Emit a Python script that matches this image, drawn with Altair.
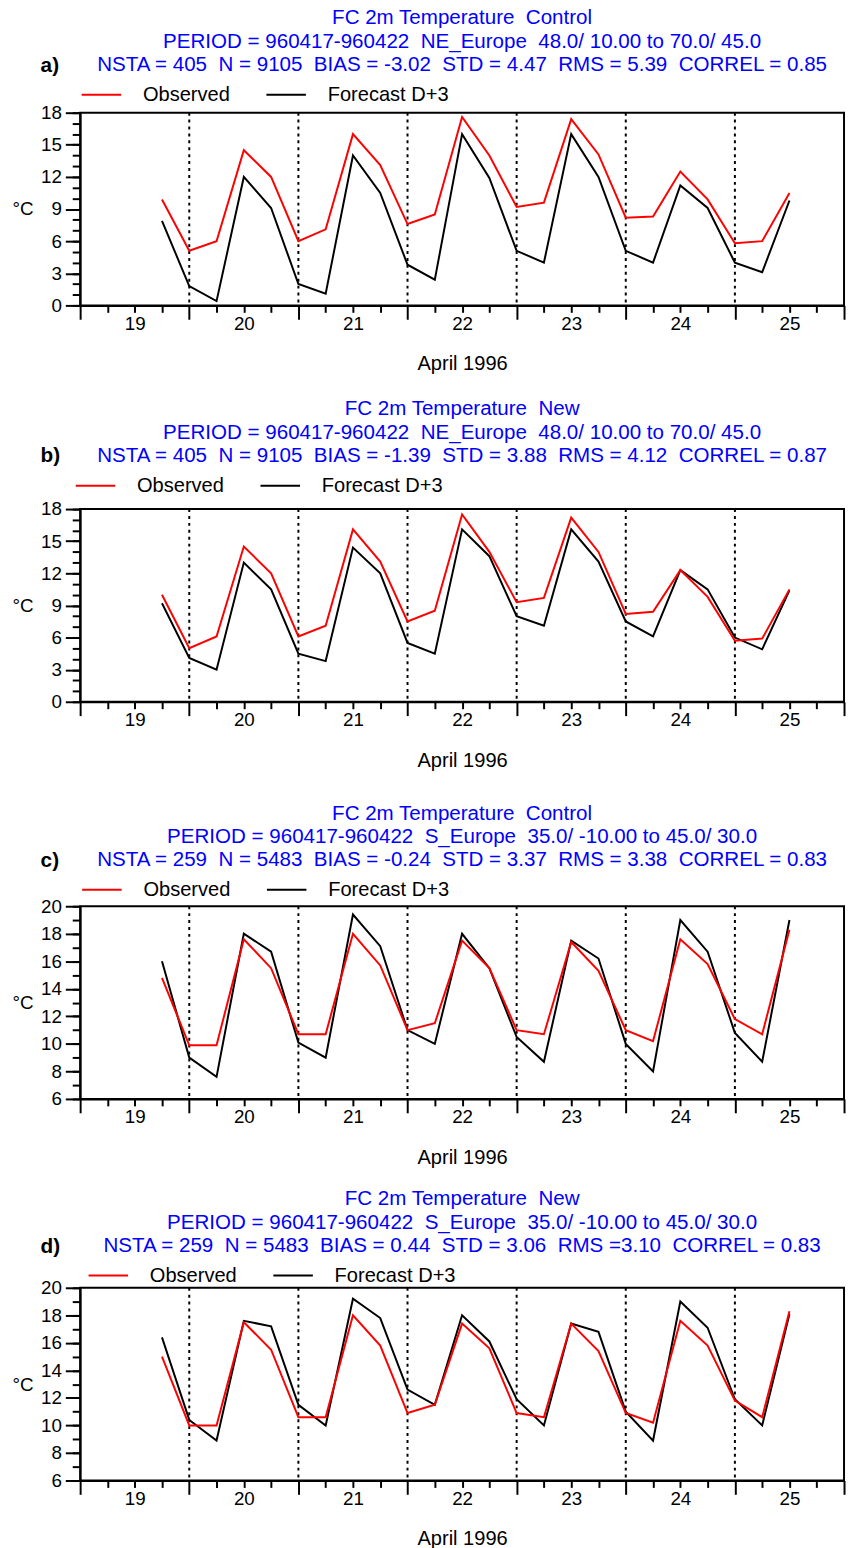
import altair as alt
import pandas as pd

FONT = "Liberation Sans"
NB = "\u00a0"

# hours after 19 April 1996 00 UTC
hours = [18, 24, 30, 36, 42, 48, 54, 60, 66, 72, 78, 84, 90, 96, 102, 108, 114, 120, 126, 132, 138, 144, 150, 156]
day_bounds = [24, 48, 72, 96, 120, 144]
major_x = [0, 24, 48, 72, 96, 120, 144, 168]
minor_x = [6, 12, 18, 30, 36, 42, 54, 60, 66, 78, 84, 90, 102, 108, 114, 126, 132, 138, 150, 156, 162]
day_label_hours = [12, 36, 60, 84, 108, 132, 156]
day_labels = ["19", "20", "21", "22", "23", "24", "25"]

obs_a = [9.9, 5.1, 6.0, 14.5, 12.0, 6.0, 7.1, 16.0, 13.1, 7.6, 8.5, 17.6, 14.0, 9.2, 9.6, 17.4, 14.1, 8.2, 8.3, 12.5, 9.9, 5.8, 6.0, 10.5]
fc_a = [7.9, 1.8, 0.4, 12.0, 9.1, 2.0, 1.1, 14.0, 10.5, 3.8, 2.4, 16.0, 11.9, 5.1, 4.0, 16.0, 12.0, 5.1, 4.0, 11.2, 9.1, 4.0, 3.1, 9.8]
obs_b = [10.0, 5.0, 6.1, 14.5, 12.0, 6.1, 7.1, 16.1, 13.1, 7.5, 8.5, 17.5, 14.0, 9.3, 9.7, 17.2, 14.0, 8.2, 8.4, 12.3, 9.8, 5.7, 5.9, 10.5]
fc_b = [9.2, 4.1, 3.0, 13.0, 10.5, 4.5, 3.8, 14.4, 12.0, 5.5, 4.5, 16.1, 13.6, 8.0, 7.1, 16.1, 13.1, 7.5, 6.1, 12.3, 10.5, 6.0, 4.9, 10.4]
obs_c = [14.8, 9.9, 9.9, 17.6, 15.5, 10.7, 10.7, 18.0, 15.7, 11.0, 11.5, 17.5, 15.5, 11.0, 10.7, 17.4, 15.3, 11.0, 10.2, 17.6, 15.8, 11.8, 10.7, 18.3]
fc_c = [16.0, 9.0, 7.6, 18.0, 16.7, 10.1, 9.0, 19.4, 17.1, 11.0, 10.0, 18.0, 15.5, 10.5, 8.7, 17.5, 16.2, 10.0, 8.0, 19.0, 16.7, 10.8, 8.7, 19.0]
obs_d = [15.0, 10.0, 10.0, 17.5, 15.5, 10.6, 10.6, 18.0, 15.8, 10.9, 11.5, 17.4, 15.6, 10.9, 10.6, 17.4, 15.4, 10.9, 10.2, 17.6, 15.8, 11.8, 10.6, 18.3]
fc_d = [16.4, 10.4, 8.9, 17.6, 17.2, 11.5, 10.0, 19.2, 17.8, 12.6, 11.5, 18.0, 16.1, 11.9, 10.0, 17.4, 16.8, 11.0, 8.9, 19.0, 17.1, 11.9, 10.0, 18.1]

series_names = ["Observed", "Forecast D+3"]
series_colors = ["#ff0000", "#000000"]

titles_a = ["FC 2m Temperature  Control",
            "PERIOD = 960417-960422  NE_Europe  48.0/ 10.00 to 70.0/ 45.0",
            "NSTA = 405  N = 9105  BIAS = -3.02  STD = 4.47  RMS = 5.39  CORREL = 0.85"]
titles_b = ["FC 2m Temperature  New",
            "PERIOD = 960417-960422  NE_Europe  48.0/ 10.00 to 70.0/ 45.0",
            "NSTA = 405  N = 9105  BIAS = -1.39  STD = 3.88  RMS = 4.12  CORREL = 0.87"]
titles_c = ["FC 2m Temperature  Control",
            "PERIOD = 960417-960422  S_Europe  35.0/ -10.00 to 45.0/ 30.0",
            "NSTA = 259  N = 5483  BIAS = -0.24  STD = 3.37  RMS = 3.38  CORREL = 0.83"]
titles_d = ["FC 2m Temperature  New",
            "PERIOD = 960417-960422  S_Europe  35.0/ -10.00 to 45.0/ 30.0",
            "NSTA = 259  N = 5483  BIAS = 0.44  STD = 3.06  RMS =3.10  CORREL = 0.83"]

y_major_ab = [0, 3, 6, 9, 12, 15, 18]
y_minor_ab = list(range(0, 19))
y_major_cd = [6, 8, 10, 12, 14, 16, 18, 20]
y_minor_cd = list(range(6, 21))

W, H = 773, 195

label_expr = ""
for hv, lab in zip(day_label_hours, day_labels):
    label_expr += f"datum.value == {hv} ? '{lab}' : "
label_expr += "''"


def keep_spaces(s):
    return s.replace("  ", " " + NB)


def panel(letter, titles, obs, fc, ydom, ymaj, ymin, lab_y, leg_x, leg_y):
    rows = []
    for h, v in zip(hours, fc):
        rows.append({"h": h, "temp": v, "series": "Forecast D+3"})
    for h, v in zip(hours, obs):
        rows.append({"h": h, "temp": v, "series": "Observed"})
    df = pd.DataFrame(rows)

    xscale = alt.Scale(domain=[0, 168], nice=False, zero=False)
    yscale = alt.Scale(domain=ydom, nice=False, zero=False)

    rules = alt.Chart(pd.DataFrame({"h": day_bounds})).mark_rule(
        strokeDash=[3, 4], strokeWidth=2, color="black"
    ).encode(
        x=alt.X("h:Q", scale=xscale, axis=alt.Axis(
            values=major_x, tickSize=14, tickWidth=2, tickColor="black",
            labels=False, title=None, domain=True, domainWidth=2,
            domainColor="black", grid=False, orient="bottom"))
    )

    minor_y = alt.Chart(df).mark_line(opacity=0).encode(
        x=alt.X("h:Q", scale=xscale, axis=None),
        y=alt.Y("temp:Q", scale=yscale, axis=alt.Axis(
            values=ymin, tickSize=8, tickWidth=2, tickColor="black",
            labels=False, title=None, domain=False, grid=False, orient="left")),
        detail="series:N",
    )

    lines = alt.Chart(df).mark_line(strokeWidth=2).encode(
        x=alt.X("h:Q", scale=xscale, axis=alt.Axis(
            values=minor_x, tickSize=7, tickWidth=2, tickColor="black",
            labelExpr=label_expr, labelFontSize=19, labelColor="black",
            labelPadding=2, labelFlush=False, labelOverlap=False,
            title="April 1996", titleFontSize=20.3, titleFontWeight="normal",
            titleColor="black", titlePadding=21,
            domain=False, grid=False, orient="bottom")),
        y=alt.Y("temp:Q", scale=yscale, axis=alt.Axis(
            values=ymaj, tickSize=15, tickWidth=2, tickColor="black",
            labelFontSize=19, labelColor="black", labelPadding=4,
            title="°C", titleAngle=0, titleX=-69, titleY=H / 2,
            titleAlign="left", titleBaseline="middle", titleFontSize=19,
            titleFontWeight="normal", titleColor="black",
            domain=True, domainWidth=2, domainColor="black", grid=False,
            orient="left")),
        color=alt.Color("series:N", scale=alt.Scale(domain=series_names, range=series_colors),
                        legend=alt.Legend(
                            orient="none", legendX=leg_x, legendY=leg_y,
                            direction="horizontal", title=None,
                            symbolType="stroke", symbolSize=1600,
                            symbolStrokeWidth=2, labelFontSize=20.3,
                            labelColor="black", labelOffset=21,
                            columnPadding=33, padding=0, labelLimit=400)),
    )

    lab = alt.Chart(pd.DataFrame({"t": [letter]})).mark_text(
        align="left", baseline="alphabetic", fontSize=21, fontWeight="bold",
        color="black"
    ).encode(x=alt.value(-40), y=alt.value(lab_y), text="t:N")

    return alt.layer(rules, minor_y, lines, lab).resolve_axis(
        x="independent", y="independent"
    ).properties(
        width=W, height=H,
        title=alt.TitleParams(
            text=[keep_spaces(t) for t in titles], fontSize=20.8,
            fontWeight="normal", color="#0000ff", anchor="middle",
            frame="group", lineHeight=23.7, offset=-21.5),
    )


pa = panel("a)", titles_a, obs_a, fc_a, [0, 18], y_major_ab, y_minor_ab, -41.6, 0.5, -39.5)
pb = panel("b)", titles_b, obs_b, fc_b, [0, 18], y_major_ab, y_minor_ab, -47.3, -5.5, -45)
pc = panel("c)", titles_c, obs_c, fc_c, [6, 20], y_major_cd, y_minor_cd, -40, 1, -38)
pd_ = panel("d)", titles_d, obs_d, fc_d, [6, 20], y_major_cd, y_minor_cd, -35.7, 7.5, -33.7)

chart = alt.vconcat(
    alt.vconcat(pa, pb, spacing=22.1).resolve_scale(color="independent"),
    alt.vconcat(pc, pd_, spacing=18.1).resolve_scale(color="independent"),
    spacing=30,
).resolve_scale(
    color="independent"
).properties(
    padding={"left": 3, "top": -11.3, "right": 0, "bottom": 0}
).configure(
    font=FONT
).configure_view(
    stroke="black", strokeWidth=2
)

chart.save("out.html", embed_options={"renderer": "svg", "actions": False})
